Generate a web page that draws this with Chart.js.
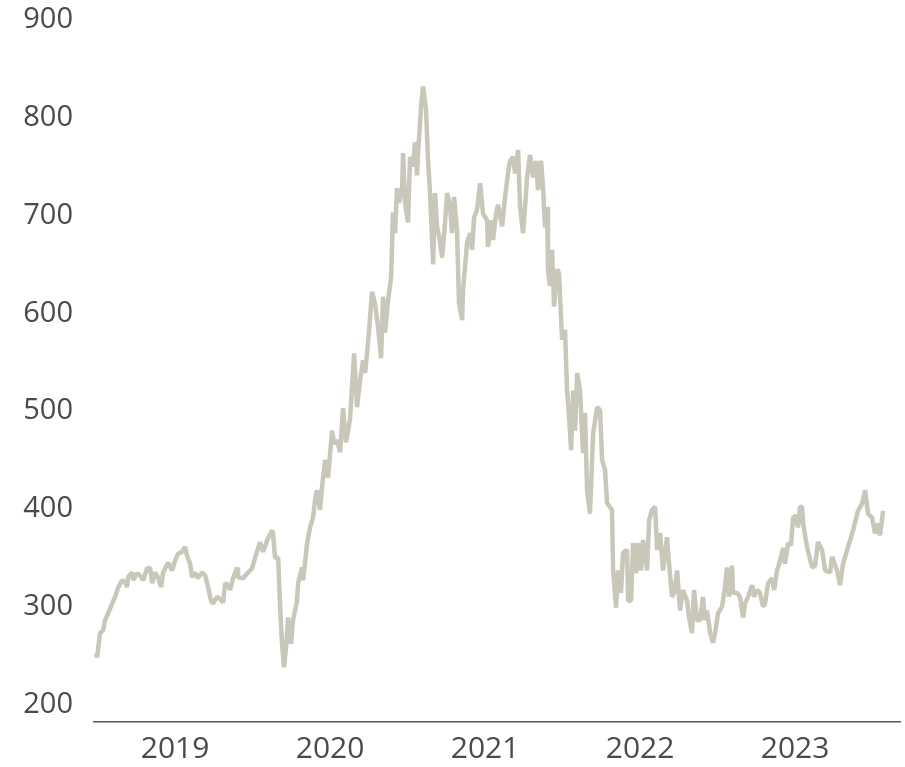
<!DOCTYPE html>
<html>
<head>
<meta charset="utf-8">
<script src="https://cdn.jsdelivr.net/npm/chart.js@4"></script>
<style>
  html, body { margin: 0; padding: 0; background: #fff; }
  #wrap { width: 905px; height: 767px; }
</style>
</head>
<body>
<div id="wrap"><canvas id="priceChart" width="905" height="767"></canvas></div>
<script>
// dates as decimal years, prices
const dates = [
  2018.490, 2018.497, 2018.516, 2018.536, 2018.548, 2018.568, 2018.594, 2018.613, 2018.632, 2018.658,
  2018.677, 2018.690, 2018.697, 2018.723, 2018.729, 2018.755, 2018.774, 2018.794, 2018.819, 2018.839,
  2018.852, 2018.871, 2018.890, 2018.910, 2018.923, 2018.955, 2018.981, 2019.000, 2019.019, 2019.045,
  2019.065, 2019.077, 2019.097, 2019.110, 2019.129, 2019.148, 2019.174, 2019.194, 2019.213, 2019.232,
  2019.245, 2019.271, 2019.290, 2019.310, 2019.323, 2019.342, 2019.355, 2019.374, 2019.400, 2019.406,
  2019.439, 2019.471, 2019.497, 2019.516, 2019.548, 2019.568, 2019.594, 2019.626, 2019.632, 2019.645,
  2019.665, 2019.677, 2019.690, 2019.703, 2019.716, 2019.729, 2019.748, 2019.761, 2019.787, 2019.794,
  2019.819, 2019.826, 2019.852, 2019.871, 2019.890, 2019.903, 2019.916, 2019.935, 2019.948, 2019.968,
  2019.987, 2020.013, 2020.026, 2020.045, 2020.065, 2020.084, 2020.103, 2020.129, 2020.155, 2020.174,
  2020.194, 2020.213, 2020.226, 2020.245, 2020.271, 2020.290, 2020.310, 2020.329, 2020.342, 2020.355,
  2020.374, 2020.394, 2020.406, 2020.419, 2020.432, 2020.445, 2020.465, 2020.471, 2020.484, 2020.503,
  2020.516, 2020.535, 2020.548, 2020.561, 2020.568, 2020.587, 2020.600, 2020.619, 2020.632, 2020.645,
  2020.665, 2020.677, 2020.690, 2020.703, 2020.723, 2020.742, 2020.755, 2020.774, 2020.787, 2020.800,
  2020.819, 2020.832, 2020.852, 2020.858, 2020.884, 2020.903, 2020.916, 2020.929, 2020.948, 2020.968,
  2020.987, 2021.013, 2021.019, 2021.039, 2021.052, 2021.071, 2021.084, 2021.110, 2021.129, 2021.148,
  2021.161, 2021.181, 2021.194, 2021.213, 2021.226, 2021.245, 2021.258, 2021.271, 2021.290, 2021.310,
  2021.329, 2021.342, 2021.361, 2021.374, 2021.387, 2021.400, 2021.406, 2021.419, 2021.432, 2021.445,
  2021.465, 2021.477, 2021.497, 2021.516, 2021.529, 2021.542, 2021.555, 2021.568, 2021.581, 2021.594,
  2021.613, 2021.632, 2021.645, 2021.658, 2021.677, 2021.697, 2021.723, 2021.742, 2021.755, 2021.774,
  2021.787, 2021.819, 2021.826, 2021.845, 2021.858, 2021.877, 2021.890, 2021.916, 2021.923, 2021.942,
  2021.955, 2021.974, 2021.987, 2022.006, 2022.019, 2022.045, 2022.058, 2022.077, 2022.097, 2022.110,
  2022.129, 2022.148, 2022.174, 2022.187, 2022.206, 2022.219, 2022.239, 2022.258, 2022.277, 2022.303,
  2022.316, 2022.335, 2022.348, 2022.368, 2022.387, 2022.406, 2022.419, 2022.432, 2022.452, 2022.471,
  2022.484, 2022.503, 2022.529, 2022.548, 2022.561, 2022.574, 2022.594, 2022.600, 2022.626, 2022.645,
  2022.665, 2022.677, 2022.697, 2022.723, 2022.735, 2022.755, 2022.774, 2022.794, 2022.806, 2022.826,
  2022.852, 2022.865, 2022.884, 2022.903, 2022.923, 2022.935, 2022.955, 2022.974, 2022.987, 2023.006,
  2023.019, 2023.032, 2023.045, 2023.052, 2023.077, 2023.110, 2023.129, 2023.148, 2023.174, 2023.194,
  2023.226, 2023.239, 2023.271, 2023.290, 2023.310, 2023.342, 2023.374, 2023.406, 2023.432, 2023.452,
  2023.471, 2023.497, 2023.516, 2023.535, 2023.548, 2023.568
];

const prices = [
  252, 248, 273, 276, 286, 293, 303, 310, 319, 327,
  325, 320, 330, 335, 327, 334, 332, 327, 339, 340,
  324, 335, 330, 320, 335, 345, 337, 347, 354, 356,
  361, 352, 344, 330, 335, 329, 335, 332, 320, 306,
  303, 310, 308, 304, 324, 322, 317, 329, 340, 330,
  329, 335, 339, 350, 366, 356, 368, 378, 375, 350,
  350, 303, 262, 238, 258, 289, 262, 286, 306, 324,
  340, 327, 365, 381, 391, 409, 419, 399, 422, 450,
  432, 480, 467, 470, 458, 503, 468, 492, 559, 504,
  532, 552, 539, 570, 622, 610, 586, 554, 617, 580,
  613, 637, 703, 682, 728, 713, 728, 764, 713, 693,
  760, 750, 775, 741, 764, 811, 832, 808, 757, 723,
  650, 723, 689, 679, 657, 693, 723, 709, 682, 719,
  685, 610, 593, 624, 672, 682, 665, 698, 706, 733,
  702, 695, 668, 695, 675, 702, 711, 689, 719, 743,
  756, 760, 743, 767, 709, 682, 709, 739, 762, 739,
  756, 726, 756, 729, 688, 709, 645, 628, 665, 607,
  645, 641, 573, 583, 521, 494, 460, 521, 480, 539,
  521, 457, 498, 419, 395, 477, 504, 501, 450, 440,
  406, 399, 337, 299, 337, 314, 355, 358, 306, 306,
  365, 334, 365, 337, 368, 337, 388, 399, 402, 358,
  375, 337, 371, 344, 310, 314, 337, 296, 317, 306,
  289, 273, 317, 286, 286, 310, 286, 296, 273, 263,
  273, 293, 300, 320, 340, 310, 342, 314, 314, 310,
  289, 303, 310, 322, 310, 317, 314, 300, 303, 324,
  329, 317, 337, 347, 360, 344, 365, 363, 391, 393,
  381, 402, 402, 385, 361, 340, 342, 366, 358, 337,
  335, 351, 337, 322, 344, 361, 378, 398, 405, 419,
  395, 391, 375, 385, 373, 398
];

const yearTicks = [2019, 2020, 2021, 2022, 2023];
const valueTicks = [200, 300, 400, 500, 600, 700, 800, 900];

const points = dates.map((d, i) => ({ x: d, y: prices[i] }));

const ctx = document.getElementById('priceChart').getContext('2d');
new Chart(ctx, {
  type: 'line',
  data: {
    datasets: [{
      data: points,
      borderColor: '#c9c7ba',
      borderWidth: 4.5,
      borderJoinStyle: 'bevel',
      pointRadius: 0,
      tension: 0,
      fill: false
    }]
  },
  options: {
    responsive: false,
    animation: false,
    layout: { padding: { top: 0, right: 5, bottom: 0, left: 0 } },
    plugins: { legend: { display: false }, tooltip: { enabled: false } },
    scales: {
      x: {
        type: 'linear',
        min: 2018.477,
        max: 2023.677,
        afterBuildTicks: (scale) => { scale.ticks = yearTicks.map(v => ({ value: v })); },
        afterFit: (scale) => { scale.height = 45; scale.paddingLeft = 0; scale.paddingRight = 0; },
        grid: { display: false, drawTicks: false },
        border: { display: true, color: '#555', width: 1.5 },
        ticks: {
          padding: 9,
          color: '#4a4a4a',
          font: { family: 'Open Sans', size: 30 },
          maxRotation: 0,
          callback: (v) => String(v)
        }
      },
      y: {
        min: 182,
        max: 900,
        afterBuildTicks: (scale) => { scale.ticks = valueTicks.map(v => ({ value: v })); },
        afterFit: (scale) => { scale.width = 94; scale.paddingTop = 20; scale.paddingBottom = 0; },
        grid: { display: false, drawTicks: false },
        border: { display: false },
        ticks: {
          padding: 21,
          color: '#4a4a4a',
          font: { family: 'Open Sans', size: 29 }
        }
      }
    }
  }
});
</script>
</body>
</html>
